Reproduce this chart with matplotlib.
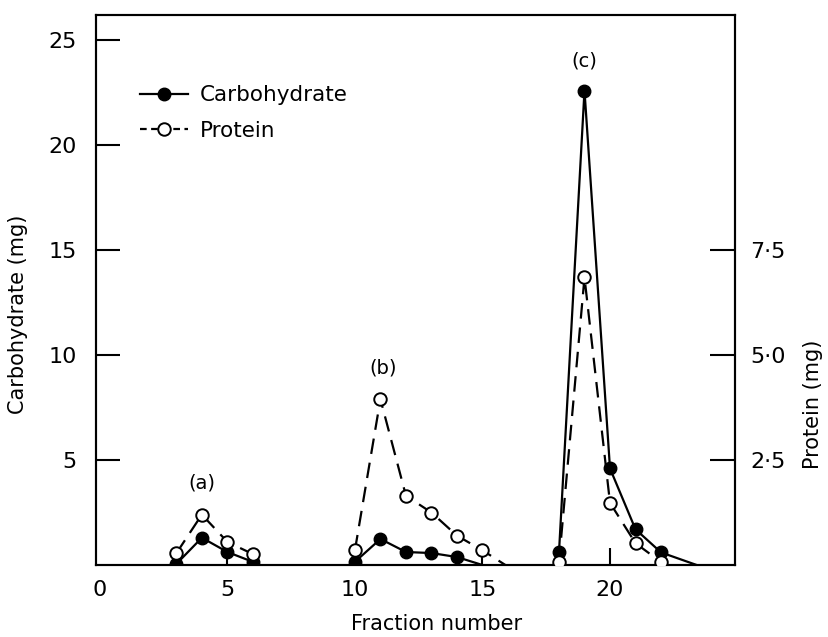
import matplotlib.pyplot as plt

# fraction numbers and values for the three peaks (a), (b), (c)
carb_x = [[3, 4, 5, 6], [10, 11, 12, 13, 14], [18, 19, 20, 21, 22]]
carb_y = [[0.05, 1.3, 0.62, 0.15], [0.15, 1.24, 0.62, 0.57, 0.38], [0.6, 22.6, 4.6, 1.7, 0.6]]
# where the carbohydrate curves run back down to the baseline
carb_tail_x = [None, 15.0, 23.4]

prot_x = [[3, 4, 5, 6], [10, 11, 12, 13, 14, 15], [18, 19, 20, 21, 22]]
prot_y = [[0.28, 1.2, 0.55, 0.26], [0.35, 3.95, 1.65, 1.25, 0.7, 0.35], [0.07, 6.85, 1.48, 0.52, 0.07]]
prot_tail_x = [None, 15.9, None]

peak_labels = ['(a)', '(b)', '(c)']
peak_pos = [(4, 3.9), (11.1, 9.4), (19, 24.0)]

carb_ticks = [5, 10, 15, 20, 25]
prot_ticks = [2.5, 5.0, 7.5]
prot_ticklabels = ['2·5', '5·0', '7·5']
x_ticks = [0, 5, 10, 15, 20]

plt.rcParams['font.family'] = 'DejaVu Sans'

fig = plt.figure(figsize=(8.29, 6.37), dpi=100)
ax = fig.add_axes([0.1158, 0.113, 0.7708, 0.8635])
ax2 = ax.twinx()

ytop = 26.2
ax.set_xlim(-0.15, 24.9)
ax.set_ylim(0, ytop)
ax2.set_ylim(0, ytop / 2)

lw = 1.6
for i in range(3):
    xs = list(carb_x[i])
    ys = list(carb_y[i])
    if carb_tail_x[i] is not None:
        xs.append(carb_tail_x[i])
        ys.append(0)
    ax.plot(xs, ys, color='black', lw=lw, zorder=2)
    ax.plot(carb_x[i], carb_y[i], 'o', color='black', ms=9, zorder=3)

    xs = list(prot_x[i])
    ys = list(prot_y[i])
    if prot_tail_x[i] is not None:
        xs.append(prot_tail_x[i])
        ys.append(0)
    ax2.plot(xs, ys, color='black', lw=lw, linestyle=(0, (7, 4)), zorder=2)
    ax2.plot(prot_x[i], prot_y[i], 'o', mfc='white', mec='black', mew=1.4, ms=9, zorder=3)

for lab, (px, py) in zip(peak_labels, peak_pos):
    ax.text(px, py, lab, ha='center', va='center', fontsize=14)

ax.set_xticks(x_ticks)
ax.set_yticks(carb_ticks)
ax2.set_yticks(prot_ticks)
ax2.set_yticklabels(prot_ticklabels)

ax.tick_params(axis='x', direction='in', length=12, width=1.5, pad=11, labelsize=16)
ax.tick_params(axis='y', direction='in', length=17, width=1.5, pad=14, labelsize=16)
ax2.tick_params(axis='y', direction='in', length=18, width=1.5, pad=11, labelsize=16)
ax.xaxis.get_major_ticks()[0].tick1line.set_visible(False)

for a in (ax, ax2):
    for s in a.spines.values():
        s.set_linewidth(1.5)

fig.text(18 / 829, 1 - 314 / 637, 'Carbohydrate (mg)', rotation=90, ha='center', va='center', fontsize=15)
fig.text(813 / 829, 1 - 404 / 637, 'Protein (mg)', rotation=90, ha='center', va='center', fontsize=15)
fig.text(437 / 829, 1 - 624 / 637, 'Fraction number', ha='center', va='center', fontsize=15)

h1, = ax.plot([], [], '-o', color='black', lw=lw, ms=9)
h2, = ax.plot([], [], linestyle=(0, (3, 2)), color='black', lw=lw, marker='o',
              mfc='white', mec='black', mew=1.4, ms=9)
ax2.legend([h1, h2], ['Carbohydrate', 'Protein'], loc='upper left',
           bbox_to_anchor=(0.056, 0.888), frameon=False, fontsize=15.5,
           handlelength=2.2, handletextpad=0.55, labelspacing=0.72, borderaxespad=0)

fig.savefig('out.png', dpi=100)
